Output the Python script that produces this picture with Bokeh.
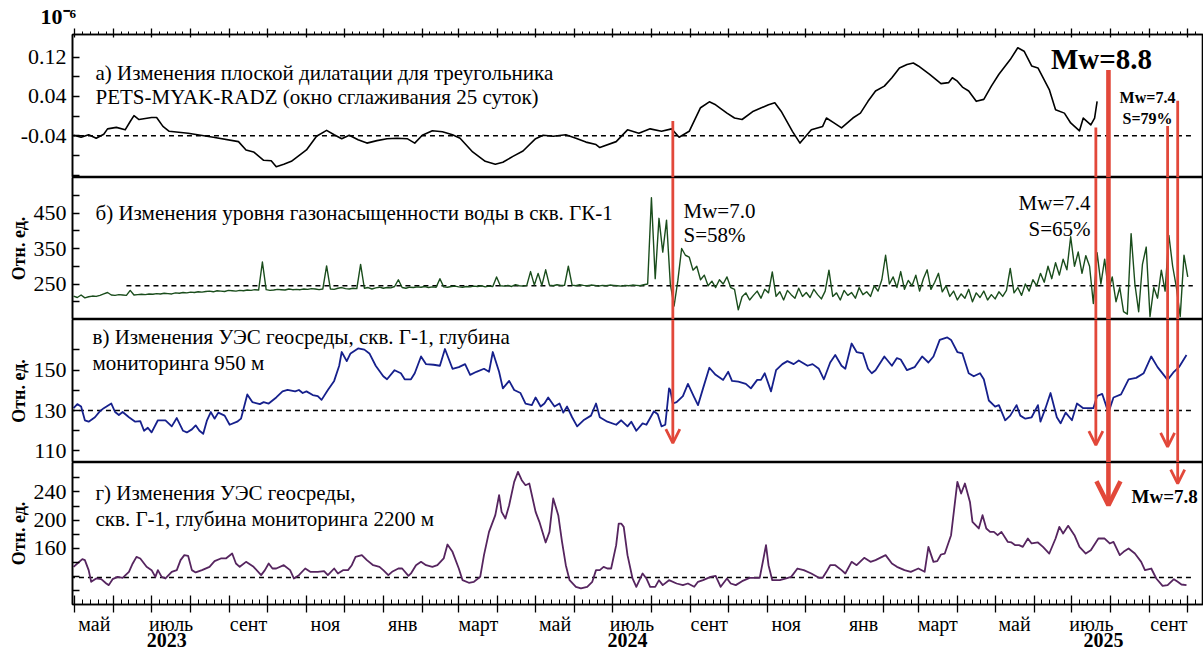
import json
import pandas as pd
from bokeh.plotting import figure
from bokeh.layouts import column
from bokeh.models import (Range1d, LinearAxis, FixedTicker, PrintfTickFormatter, CustomJSTickFormatter,
                          Label, Title, Arrow, OpenHead)
from bokeh.embed import file_html
from bokeh.resources import INLINE

# ------------------------------------------------------------------ data
# (a) plane dilatation, 1e-6
dil_dates = [
    "2023-04-30", "2023-05-06", "2023-05-12", "2023-05-18", "2023-05-24", "2023-05-27", "2023-06-03", "2023-06-10", "2023-06-14", "2023-06-17",
    "2023-06-21", "2023-06-26", "2023-07-01", "2023-07-05", "2023-07-10", "2023-07-15", "2023-07-30", "2023-08-19", "2023-09-08", "2023-09-14",
    "2023-09-20", "2023-09-28", "2023-10-04", "2023-10-08", "2023-10-14", "2023-10-20", "2023-11-01", "2023-11-09", "2023-11-17", "2023-11-23",
    "2023-11-29", "2023-12-05", "2023-12-12", "2023-12-19", "2023-12-27", "2024-01-04", "2024-01-12", "2024-01-20", "2024-01-26", "2024-02-01",
    "2024-02-09", "2024-02-17", "2024-02-25", "2024-03-02", "2024-03-12", "2024-03-22", "2024-03-30", "2024-04-05", "2024-04-13", "2024-04-21",
    "2024-05-01", "2024-05-07", "2024-05-15", "2024-05-25", "2024-06-02", "2024-06-10", "2024-06-18",
    "2024-06-21", "2024-07-04", "2024-07-13", "2024-07-22", "2024-07-31", "2024-08-09", "2024-08-17", "2024-08-23", "2024-08-31", "2024-09-09",
    "2024-09-16", "2024-09-21", "2024-09-30", "2024-10-06", "2024-10-12", "2024-10-21", "2024-11-02", "2024-11-07", "2024-11-12", "2024-11-21",
    "2024-11-27", "2024-12-06", "2024-12-15", "2024-12-18", "2024-12-24", "2024-12-30", "2025-01-08", "2025-01-14", "2025-01-20", "2025-01-26",
    "2025-02-02", "2025-02-08", "2025-02-14", "2025-02-20", "2025-02-25", "2025-03-01", "2025-03-10", "2025-03-19", "2025-03-25", "2025-03-28",
    "2025-04-01", "2025-04-05", "2025-04-10", "2025-04-16", "2025-04-22", "2025-04-28", "2025-05-04", "2025-05-13", "2025-05-19", "2025-05-24",
    "2025-05-30", "2025-06-04", "2025-06-13", "2025-06-18", "2025-06-25", "2025-06-30", "2025-07-07", "2025-07-10", "2025-07-16", "2025-07-19",
    "2025-07-21"]
dil_vals = [
    -0.039, -0.043, -0.038, -0.045, -0.037, -0.026, -0.023, -0.028, -0.011, 0.001,
    -0.007, -0.005, -0.003, -0.003, -0.021, -0.031, -0.035, -0.043, -0.052, -0.069,
    -0.073, -0.090, -0.091, -0.103, -0.098, -0.092, -0.069, -0.041, -0.029, -0.038,
    -0.046, -0.039, -0.048, -0.055, -0.050, -0.046, -0.045, -0.046, -0.055, -0.039,
    -0.030, -0.032, -0.038, -0.045, -0.073, -0.092, -0.098, -0.094, -0.082, -0.071,
    -0.046, -0.039, -0.041, -0.038, -0.045, -0.053, -0.058,
    -0.064, -0.052, -0.028, -0.035, -0.026, -0.031, -0.026, -0.043, -0.031, 0.017,
    0.029, 0.023, 0.006, -0.004, -0.007, 0.010, 0.023, 0.027, 0.010, -0.031,
    -0.055, -0.028, -0.021, -0.004, -0.014, -0.024, -0.004, 0.006, 0.030, 0.051,
    0.061, 0.078, 0.098, 0.105, 0.108, 0.102, 0.085, 0.066, 0.068, 0.078,
    0.071, 0.059, 0.051, 0.030, 0.034, 0.061, 0.085, 0.115, 0.139, 0.132,
    0.102, 0.098, 0.054, 0.013, 0.006, -0.014, -0.030, -0.004, -0.018, -0.004,
    0.030]

# (b) gas saturation, GK-1 (every 3 days from gas_start)
gas_start = "2023-04-30"
gas_step = "3D"
gas_vals = [
    216, 212, 219, 211, 214, 216, 215, 218, 222, 226, 219, 218, 220, 219, 218,
    232, 219, 220, 221, 220, 222, 221, 223, 222, 224, 223, 222, 225, 224, 226,
    225, 227, 226, 228, 227, 229, 230, 228, 231, 230, 229, 232, 231, 230, 232,
    231, 233, 232, 234, 233, 312, 234, 232, 233, 235, 234, 233, 236, 234, 235,
    234, 236, 235, 237, 236, 234, 236, 301, 236, 235, 238, 240, 237, 236, 238,
    237, 305, 238, 240, 236, 239, 241, 238, 240, 239, 243, 262, 240, 238, 241,
    240, 242, 241, 243, 240, 242, 241, 265, 242, 241, 243, 244, 242, 241, 243,
    242, 244, 243, 245, 242, 244, 243, 270, 245, 244, 246, 243, 248, 245, 244,
    246, 285, 247, 280, 246, 290, 247, 245, 248, 246, 246, 300, 247, 245, 248,
    246, 245, 247, 246, 244, 246, 245, 247, 246, 245, 244, 246, 245, 247, 246,
    245, 248, 250, 493, 265, 435, 340, 430, 250, 188, 260, 350, 331, 326, 289,
    300, 262, 275, 245, 258, 240, 262, 250, 270, 240, 235, 177, 214, 225, 205,
    218, 230, 210, 235, 225, 284, 215, 228, 205, 232, 220, 210, 238, 215, 226,
    212, 235, 220, 208, 230, 289, 215, 225, 205, 232, 218, 226, 210, 240, 220,
    228, 215, 245, 230, 262, 331, 250, 270, 240, 285, 235, 260, 245, 275, 230,
    265, 290, 235, 255, 280, 228, 245, 215, 230, 205, 222, 210, 235, 200, 225,
    212, 230, 205, 220, 208, 228, 215, 232, 294, 225, 240, 218, 250, 230, 262,
    245, 280, 255, 300, 265, 310, 275, 320, 290, 383, 300, 340, 280, 330, 300,
    195, 338, 250, 320, 230, 270, 200, 240, 172, 165, 392, 250, 172, 305, 354,
    158, 240, 210, 289, 230, 387, 300, 240, 158, 331, 270]

# (c) resistivity, G-1, 950 m
r950_dates = [
    "2023-04-30", "2023-05-03", "2023-05-06", "2023-05-09", "2023-05-12", "2023-05-17", "2023-05-21", "2023-05-24", "2023-05-30", "2023-06-02",
    "2023-06-05", "2023-06-08", "2023-06-13", "2023-06-18", "2023-06-22", "2023-06-25", "2023-06-28", "2023-07-01", "2023-07-06", "2023-07-12",
    "2023-07-17", "2023-07-21", "2023-07-26", "2023-07-29", "2023-08-02", "2023-08-05", "2023-08-08", "2023-08-11", "2023-08-14", "2023-08-17",
    "2023-08-20", "2023-08-23", "2023-08-28", "2023-09-01", "2023-09-07", "2023-09-10", "2023-09-15", "2023-09-19", "2023-09-25", "2023-09-28",
    "2023-10-02", "2023-10-08", "2023-10-13", "2023-10-17", "2023-10-23", "2023-10-26", "2023-10-29", "2023-11-01", "2023-11-06", "2023-11-10",
    "2023-11-13", "2023-11-18", "2023-11-23", "2023-11-27", "2023-11-29", "2023-12-03", "2023-12-06", "2023-12-12", "2023-12-17", "2023-12-21",
    "2023-12-26", "2024-01-01", "2024-01-04", "2024-01-10", "2024-01-15", "2024-01-18", "2024-01-23", "2024-01-26", "2024-01-31", "2024-02-04",
    "2024-02-10", "2024-02-15", "2024-02-19", "2024-02-25", "2024-03-01", "2024-03-06", "2024-03-10", "2024-03-15", "2024-03-21", "2024-03-25",
    "2024-03-28", "2024-04-02", "2024-04-05", "2024-04-10", "2024-04-14", "2024-04-19", "2024-04-23", "2024-04-28", "2024-05-01", "2024-05-05",
    "2024-05-08", "2024-05-11", "2024-05-16", "2024-05-20", "2024-05-23", "2024-05-26", "2024-05-30", "2024-06-03", "2024-06-08", "2024-06-14",
    "2024-06-18", "2024-06-21", "2024-06-27", "2024-07-04", "2024-07-08", "2024-07-13", "2024-07-16", "2024-07-20", "2024-07-25", "2024-07-28",
    "2024-08-03", "2024-08-06", "2024-08-09", "2024-08-12", "2024-08-15", "2024-08-16", "2024-08-18", "2024-08-21", "2024-08-26", "2024-08-30",
    "2024-09-04", "2024-09-07", "2024-09-11", "2024-09-16", "2024-09-21", "2024-09-27", "2024-10-01", "2024-10-04", "2024-10-09", "2024-10-15",
    "2024-10-19", "2024-10-24", "2024-10-27", "2024-10-30", "2024-11-04", "2024-11-08", "2024-11-13", "2024-11-17", "2024-11-22", "2024-11-26",
    "2024-12-03", "2024-12-07", "2024-12-12", "2024-12-16", "2024-12-21", "2024-12-25", "2024-12-30", "2025-01-02", "2025-01-07", "2025-01-11",
    "2025-01-16", "2025-01-20", "2025-01-23", "2025-01-26", "2025-02-02", "2025-02-08", "2025-02-12", "2025-02-15", "2025-02-20", "2025-02-26",
    "2025-03-04", "2025-03-09", "2025-03-13", "2025-03-18", "2025-03-24", "2025-03-27", "2025-04-01", "2025-04-05", "2025-04-10", "2025-04-14",
    "2025-04-19", "2025-04-22", "2025-04-26", "2025-05-01", "2025-05-04", "2025-05-09", "2025-05-13", "2025-05-18", "2025-05-21", "2025-05-25",
    "2025-05-30", "2025-06-04", "2025-06-06", "2025-06-10", "2025-06-14", "2025-06-19", "2025-06-22", "2025-06-26", "2025-07-01", "2025-07-05",
    "2025-07-10", "2025-07-13", "2025-07-18", "2025-07-21", "2025-07-25", "2025-07-30", "2025-08-03", "2025-08-09", "2025-08-15", "2025-08-21",
    "2025-08-27", "2025-09-02", "2025-09-07", "2025-09-15", "2025-09-20", "2025-09-24", "2025-09-30"]
r950_vals = [
    131.2, 133.2, 132.0, 125.2, 124.5, 126.7, 129.7, 131.2, 133.5, 129.3,
    127.8, 129.3, 126.7, 124.5, 124.8, 120.0, 121.5, 119.2, 125.2, 125.2,
    122.2, 126.3, 120.0, 119.2, 120.7, 122.7, 120.0, 118.5, 125.2, 129.3,
    126.0, 129.0, 127.5, 123.0, 124.5, 126.0, 138.0, 134.2, 133.2, 134.2,
    133.5, 136.5, 139.5, 140.2, 139.5, 140.2, 138.7, 139.5, 137.7, 137.2,
    135.3, 140.2, 144.7, 152.2, 159.0, 154.5, 158.3, 160.8, 160.2, 158.3,
    152.2, 147.0, 145.5, 150.0, 148.5, 145.5, 145.5, 148.5, 156.8, 153.0,
    152.7, 152.2, 160.5, 150.7, 151.5, 153.0, 147.7, 149.2, 150.7, 149.2,
    159.0, 149.2, 141.0, 144.7, 140.2, 138.7, 133.5, 132.7, 136.5, 132.0,
    133.5, 136.5, 132.0, 133.5, 129.0, 132.0, 126.7, 122.2, 125.2, 127.5,
    133.5, 126.7, 124.5, 123.0, 125.2, 122.2, 124.5, 120.0, 123.7, 123.0,
    129.7, 128.2, 122.2, 123.0, 141.0, 140.2, 133.5, 134.2, 137.2, 143.2,
    136.5, 132.7, 141.0, 151.2, 147.7, 145.2, 149.2, 144.7, 144.3, 143.2,
    141.0, 145.2, 145.2, 148.5, 139.5, 150.0, 153.0, 154.5, 153.0, 154.8,
    152.2, 153.0, 150.7, 145.5, 153.8, 157.5, 152.2, 150.7, 163.2, 159.0,
    158.3, 150.7, 148.5, 150.0, 156.8, 152.2, 156.0, 155.3, 150.0, 151.5,
    156.8, 153.8, 156.8, 165.0, 166.2, 165.0, 159.0, 158.3, 148.5, 147.0,
    148.5, 145.5, 135.0, 132.0, 132.7, 125.2, 127.5, 132.7, 127.5, 126.0,
    126.7, 132.7, 124.5, 131.2, 138.7, 126.7, 123.7, 129.0, 125.2, 133.5,
    131.2, 131.2, 131.2, 137.2, 138.3, 129.0, 136.5, 138.0, 145.5, 146.2,
    148.5, 156.8, 151.5, 145.2, 149.2, 151.5, 157.5]

# (d) resistivity, G-1, 2200 m
r2200_dates = [
    "2023-04-30", "2023-05-03", "2023-05-07", "2023-05-09", "2023-05-12", "2023-05-14", "2023-05-18", "2023-05-22", "2023-05-26", "2023-05-28",
    "2023-05-31", "2023-06-04", "2023-06-08", "2023-06-13", "2023-06-16", "2023-06-19", "2023-06-22", "2023-06-27", "2023-07-01", "2023-07-04",
    "2023-07-06", "2023-07-09", "2023-07-12", "2023-07-17", "2023-07-21", "2023-07-24", "2023-07-27", "2023-07-30", "2023-08-02", "2023-08-05",
    "2023-08-10", "2023-08-16", "2023-08-20", "2023-08-25", "2023-08-29", "2023-09-03", "2023-09-06", "2023-09-09", "2023-09-14", "2023-09-20",
    "2023-09-26", "2023-09-29", "2023-10-02", "2023-10-05", "2023-10-08", "2023-10-14", "2023-10-19", "2023-10-22", "2023-10-26", "2023-10-31",
    "2023-11-04", "2023-11-10", "2023-11-15", "2023-11-18", "2023-11-23", "2023-11-26", "2023-11-30", "2023-12-04", "2023-12-07", "2023-12-10",
    "2023-12-15", "2023-12-19", "2023-12-24", "2023-12-29", "2024-01-01", "2024-01-05", "2024-01-08", "2024-01-13", "2024-01-16", "2024-01-21",
    "2024-01-23", "2024-01-27", "2024-01-31", "2024-02-04", "2024-02-09", "2024-02-13", "2024-02-18", "2024-02-21", "2024-02-25", "2024-03-01",
    "2024-03-04", "2024-03-09", "2024-03-13", "2024-03-18", "2024-03-21", "2024-03-25", "2024-03-30", "2024-04-02", "2024-04-04", "2024-04-07",
    "2024-04-10", "2024-04-14", "2024-04-17", "2024-04-20", "2024-04-23", "2024-04-26", "2024-05-01", "2024-05-04", "2024-05-09", "2024-05-12",
    "2024-05-15", "2024-05-19", "2024-05-22", "2024-05-25", "2024-05-28", "2024-06-02", "2024-06-06", "2024-06-11", "2024-06-15", "2024-06-18",
    "2024-06-21", "2024-06-24", "2024-06-27", "2024-06-30", "2024-07-04", "2024-07-06", "2024-07-08", "2024-07-10", "2024-07-13", "2024-07-17",
    "2024-07-20", "2024-07-25", "2024-07-28", "2024-07-31", "2024-08-04", "2024-08-07", "2024-08-10", "2024-08-15", "2024-08-21", "2024-08-26",
    "2024-08-30", "2024-09-04", "2024-09-07", "2024-09-11", "2024-09-17", "2024-09-21", "2024-09-25", "2024-09-30", "2024-10-03", "2024-10-07",
    "2024-10-12", "2024-10-18", "2024-10-26", "2024-10-29", "2024-10-31", "2024-11-02", "2024-11-05", "2024-11-11", "2024-11-16", "2024-11-20",
    "2024-11-25", "2024-11-30", "2024-12-06", "2024-12-12", "2024-12-15", "2024-12-18", "2024-12-21", "2024-12-25", "2024-12-30", "2025-01-02",
    "2025-01-07", "2025-01-11", "2025-01-17", "2025-01-22", "2025-01-26", "2025-02-03", "2025-02-08", "2025-02-12", "2025-02-18", "2025-02-23",
    "2025-03-01", "2025-03-06", "2025-03-09", "2025-03-13", "2025-03-16", "2025-03-19", "2025-03-22", "2025-03-27", "2025-04-01", "2025-04-04",
    "2025-04-07", "2025-04-11", "2025-04-13", "2025-04-18", "2025-04-21", "2025-04-24", "2025-04-27", "2025-04-30", "2025-05-03", "2025-05-06",
    "2025-05-11", "2025-05-14", "2025-05-17", "2025-05-20", "2025-05-23", "2025-05-27", "2025-05-30", "2025-06-04", "2025-06-08", "2025-06-13",
    "2025-06-18", "2025-06-21", "2025-06-24", "2025-06-28", "2025-07-03", "2025-07-07", "2025-07-12", "2025-07-16", "2025-07-22", "2025-07-27",
    "2025-07-31", "2025-08-03", "2025-08-08", "2025-08-11", "2025-08-15", "2025-08-20", "2025-08-25", "2025-08-28", "2025-09-02", "2025-09-06",
    "2025-09-11", "2025-09-15", "2025-09-20", "2025-09-23", "2025-09-26", "2025-09-30"]
r2200_vals = [
    134.1, 138.8, 144.9, 143.5, 129.4, 112.9, 117.6, 116.6, 110.5, 108.2,
    116.6, 119.9, 118.5, 127.0, 138.8, 148.2, 145.9, 134.1, 129.4, 119.9,
    129.4, 119.9, 117.6, 127.0, 129.4, 143.5, 150.6, 149.6, 129.4, 126.1,
    129.4, 134.1, 142.1, 145.9, 145.9, 152.9, 138.8, 134.1, 141.1, 134.1,
    122.3, 129.4, 138.8, 131.7, 131.7, 136.4, 129.4, 117.6, 122.3, 131.7,
    127.0, 127.0, 128.0, 122.3, 131.7, 124.7, 129.4, 129.4, 136.4, 148.2,
    150.6, 143.5, 136.4, 134.1, 129.4, 122.3, 127.0, 131.7, 131.7, 121.4,
    124.7, 136.4, 141.1, 136.4, 134.1, 136.4, 145.9, 165.6, 155.3, 131.7,
    115.2, 111.5, 112.9, 119.9, 150.6, 183.5, 207.1, 235.4, 211.8, 202.4,
    221.2, 254.2, 268.3, 256.6, 249.5, 251.9, 211.8, 197.7, 168.5, 183.5,
    230.7, 207.1, 169.4, 136.4, 115.2, 105.8, 103.5, 105.8, 112.9, 129.4,
    129.4, 134.1, 131.7, 131.7, 164.7, 195.3, 195.3, 190.6, 150.6, 117.6,
    105.8, 124.7, 117.6, 105.8, 105.8, 115.2, 108.2, 115.2, 110.5, 108.2,
    110.5, 105.8, 112.9, 115.2, 119.9, 121.4, 105.8, 117.6, 110.5, 108.2,
    113.8, 118.5, 118.5, 145.9, 164.7, 136.4, 115.2, 115.2, 117.6, 119.9,
    131.7, 129.4, 124.7, 118.5, 118.5, 127.0, 136.4, 136.4, 129.4, 124.7,
    141.1, 136.4, 146.8, 141.1, 143.5, 150.6, 138.8, 134.1, 129.4, 127.0,
    131.7, 127.0, 162.3, 141.1, 142.1, 151.5, 152.9, 178.8, 254.2, 237.7,
    251.9, 225.9, 197.7, 188.3, 207.1, 188.3, 183.5, 183.5, 178.8, 183.5,
    169.4, 168.5, 164.7, 164.7, 162.3, 174.1, 167.1, 168.5, 162.3, 152.9,
    174.1, 190.6, 181.2, 192.0, 178.8, 162.3, 152.9, 157.6, 174.1, 174.1,
    167.1, 169.4, 150.6, 155.3, 160.0, 152.9, 141.1, 129.4, 131.7, 117.6,
    107.2, 108.2, 116.6, 112.9, 109.1, 108.2]

# reference (dashed) levels
base_dil, base_gas, base_950, base_2200 = -0.04, 245, 130, 119

# earthquakes
quake_dates = ["2024-08-18", "2025-07-20", "2025-07-30", "2025-09-15", "2025-09-23"]
quake_mw = [7.0, 7.4, 8.8, 7.4, 7.8]
quake_s = [58, 65, None, 79, None]

# axis ticks / labels
dil_ticks, dil_minor = [-0.04, 0.04, 0.12], [-0.12, -0.08, 0.0, 0.08]
gas_ticks, gas_minor = [250, 350, 450], [200, 300, 400, 500]
r950_ticks, r950_minor = [110, 130, 150], [120, 140, 160]
r2200_ticks, r2200_minor = [160, 200, 240], [100, 120, 140, 180, 220, 260]
month_names = {5: "май", 7: "июль", 9: "сент", 11: "ноя", 1: "янв", 3: "март"}
years = ["2023", "2024", "2025"]
units_text = "Отн. ед."
scale_text = "10⁻⁶"
head_a = ["а) Изменения плоской дилатации для треугольника", "PETS-MYAK-RADZ (окно сглаживания 25 суток)"]
head_b = ["б) Изменения уровня газонасыщенности воды в скв. ГК-1"]
head_c = ["в) Изменения УЭС геосреды, скв. Г-1, глубина", "мониторинга 950 м"]
head_d = ["г) Изменения УЭС геосреды,", "скв. Г-1, глубина мониторинга 2200 м"]

# ------------------------------------------------------------------ layout / style
FONT = "Liberation Serif"
RED = "#e2483a"
FW, LB = 1131, 72
FH = {"a": 143, "b": 142, "c": 143, "d": 142}
TOP_A, BOT_D = 34, 47


def ms(d):
    return (pd.Timestamp(d) - pd.Timestamp("1970-01-01")) / pd.Timedelta(milliseconds=1)


t0 = pd.Timestamp("2023-05-01")
xr = Range1d(start=ms(t0 - pd.Timedelta(days=1.83)), end=ms(t0 + pd.Timedelta(days=896.5)))
line_end = "2025-10-05"


def make_fig(yr, fh, top=0, bottom=0):
    p = figure(frame_width=FW, frame_height=fh, x_range=xr, y_range=Range1d(*yr),
               output_backend="svg", toolbar_location=None, title=None,
               x_axis_location=None, y_axis_location=None,
               min_border_left=LB, min_border_right=0, min_border_top=top, min_border_bottom=bottom)
    p.grid.visible = False
    p.outline_line_color = "black"
    p.outline_line_width = 1.6
    p.background_fill_color = "white"
    p.border_fill_color = "white"
    return p


def yaxis(p, ticks, minor, fmt, label_offset=None):
    ax = LinearAxis(ticker=FixedTicker(ticks=ticks, minor_ticks=minor),
                    formatter=PrintfTickFormatter(format=fmt))
    ax.major_tick_in, ax.major_tick_out = 7, 0
    ax.minor_tick_in, ax.minor_tick_out = 7, 0
    ax.axis_line_width = 1.5
    ax.major_tick_line_width = 1.3
    ax.minor_tick_line_width = 1.3
    ax.major_label_standoff = 6
    ax.major_label_text_font = FONT
    ax.major_label_text_font_size = "22px"
    ax.major_label_text_color = "black"
    p.add_layout(ax, "left")
    if label_offset is not None:
        p.add_layout(Title(text=units_text, align="center", offset=label_offset, standoff=4,
                           text_font=FONT, text_font_size="18px", text_font_style="bold",
                           text_color="black"), "left")


def text(p, key, x, frac, s, size="21px", bold=False, align="left"):
    p.add_layout(Label(x=x, y=frac * FH[key], x_units="screen", y_units="screen", text=s,
                       text_font=FONT, text_font_size=size,
                       text_font_style="bold" if bold else "normal",
                       text_align=align, text_baseline="middle", text_color="black"))


yr_a, yr_b, yr_c, yr_d = (-0.125, 0.166), (150, 550), (104.3, 175.1), (80.8, 281.6)
pa = make_fig(yr_a, FH["a"], top=TOP_A)
pb = make_fig(yr_b, FH["b"])
pc = make_fig(yr_c, FH["c"])
pdd = make_fig(yr_d, FH["d"], bottom=BOT_D)
panels = {"a": (pa, yr_a), "b": (pb, yr_b), "c": (pc, yr_c), "d": (pdd, yr_d)}

yaxis(pa, dil_ticks, dil_minor, "%.2f")
yaxis(pb, gas_ticks, gas_minor, "%d", 3)
yaxis(pc, r950_ticks, r950_minor, "%d", 14)
yaxis(pdd, r2200_ticks, r2200_minor, "%d", 39)

# time axes: month ticks + 4 sub-ticks per month
month_starts = pd.date_range("2023-05-01", "2025-10-01", freq="MS")
major_x = [ms(d) for d in month_starts]
minor_x = []
for s, e in zip(month_starts[:-1], month_starts[1:]):
    for f in (0.2, 0.4, 0.6, 0.8):
        minor_x.append(ms(s + (e - s) * f))
minor_x.append(ms(month_starts[-1] + pd.Timedelta(days=6)))


def tick_axis(tin, tout, mtin, mtout):
    ax = LinearAxis(ticker=FixedTicker(ticks=major_x, minor_ticks=minor_x))
    ax.major_label_text_font_size = "0px"
    ax.major_label_text_color = None
    ax.major_label_standoff = 0
    ax.major_tick_in, ax.major_tick_out = tin, tout
    ax.minor_tick_in, ax.minor_tick_out = mtin, mtout
    ax.axis_line_width = 1.5
    ax.major_tick_line_width = 1.3
    return ax


pa.add_layout(tick_axis(3, 6, 0, 3), "above")
pa.add_layout(Title(text=scale_text, align="left", offset=-32, standoff=0,
                    text_font=FONT, text_font_size="22px", text_font_style="bold",
                    text_color="black"), "above")

pdd.add_layout(tick_axis(9, 8, 5, 0), "below")

# month names (centred in the month) and years
lab_x = []
for s, e in zip(month_starts[:-1], month_starts[1:]):
    if s.month in month_names:
        lab_x.append(ms(s + (e - s) / 2))
js_names = json.dumps({m - 1: n for m, n in month_names.items()}, ensure_ascii=False)
mon_ax = LinearAxis(ticker=FixedTicker(ticks=lab_x),
                    formatter=CustomJSTickFormatter(code=f"const n = {js_names}; return n[new Date(tick).getUTCMonth()] || '';"))
year_x = [ms("2023-07-13"), ms("2024-07-13"), ms("2025-07-26")]
yr_ax = LinearAxis(ticker=FixedTicker(ticks=year_x),
                   formatter=CustomJSTickFormatter(code="return String(new Date(tick).getUTCFullYear());"))
for ax, style, standoff in ((mon_ax, "normal", 0), (yr_ax, "bold", -5)):
    ax.axis_line_color = None
    ax.major_tick_line_color = None
    ax.minor_tick_line_color = None
    ax.major_tick_in = ax.major_tick_out = 0
    ax.minor_tick_in = ax.minor_tick_out = 0
    ax.major_label_standoff = standoff
    ax.major_label_text_font = FONT
    ax.major_label_text_font_size = "20px"
    ax.major_label_text_font_style = style
    ax.major_label_text_color = "black"
    pdd.add_layout(ax, "below")


# dashed reference levels
def baseline(p, y, start, end):
    p.line(x=[ms(start), ms(end)], y=[y, y], line_color="black", line_width=1.5, line_dash="5 4")


baseline(pa, base_dil, "2023-04-20", line_end)
baseline(pb, base_gas, "2023-06-11", line_end)
baseline(pc, base_950, "2023-04-20", line_end)
baseline(pdd, base_2200, "2023-04-20", line_end)

# series
pa.line(x=pd.to_datetime(dil_dates), y=dil_vals, line_color="black", line_width=1.6, line_join="round")
gas_dates = pd.date_range(gas_start, periods=len(gas_vals), freq=gas_step)
pb.line(x=gas_dates, y=gas_vals, line_color="#1a4d1c", line_width=1.4, line_join="round")
pc.line(x=pd.to_datetime(r950_dates), y=r950_vals, line_color="#16208c", line_width=1.8, line_join="round")
pdd.line(x=pd.to_datetime(r2200_dates), y=r2200_vals, line_color="#56255f", line_width=1.8, line_join="round")

# earthquake arrows (start height in panel a, tip height in the last panel)
arrow_top = [-0.010, -0.023, 0.094, -0.020, 0.031]
arrow_panel = ["c", "c", "d", "c", "d"]
arrow_tip = [113.9, 112.9, 221.2, 112.0, 251.9]
arrow_w = [2.8, 2.8, 4.6, 2.8, 2.8]
arrow_head = [14, 14, 24, 14, 14]
order = ["a", "b", "c", "d"]
for i, d in enumerate(quake_dates):
    x = ms(d)
    last = order.index(arrow_panel[i])
    for k, key in enumerate(order[:last + 1]):
        p, yr = panels[key]
        if k == last:
            p.add_layout(Arrow(x_start=x, y_start=yr[1], x_end=x, y_end=arrow_tip[i],
                               line_color=RED, line_width=arrow_w[i],
                               end=OpenHead(size=arrow_head[i], line_color=RED, line_width=arrow_w[i])))
        else:
            y0 = arrow_top[i] if key == "a" else yr[1]
            p.segment(x0=[x], y0=[y0], x1=[x], y1=[yr[0]], line_color=RED, line_width=arrow_w[i])

# texts inside the panels (x: px from the frame's left edge, y: fraction of frame height)
text(pa, "a", 23, 0.734, head_a[0])
text(pa, "a", 23, 0.566, head_a[1])
text(pa, "a", 1029, 0.832, f"Mw={quake_mw[2]}", size="29px", bold=True, align="center")
text(pa, "a", 1075, 0.556, f"Mw={quake_mw[3]}", size="16px", bold=True, align="center")
text(pa, "a", 1075, 0.416, f"S={quake_s[3]}%", size="16px", bold=True, align="center")

text(pb, "b", 23, 0.753, head_b[0])
text(pb, "b", 611, 0.767, f"Mw={quake_mw[0]}")
text(pb, "b", 611, 0.592, f"S={quake_s[0]}%")
text(pb, "b", 1018, 0.821, f"Mw={quake_mw[1]}", align="right")
text(pb, "b", 1018, 0.639, f"S={quake_s[1]}%", align="right")

text(pc, "c", 20, 0.877, head_c[0])
text(pc, "c", 20, 0.695, head_c[1])

text(pdd, "d", 23, 0.782, head_d[0])
text(pdd, "d", 23, 0.599, head_d[1])
text(pdd, "d", 1059, 0.758, f"Mw={quake_mw[4]}", size="19px", bold=True)

layout = column(pa, pb, pc, pdd, spacing=0)
open("out.html", "w").write(file_html(layout, INLINE))
